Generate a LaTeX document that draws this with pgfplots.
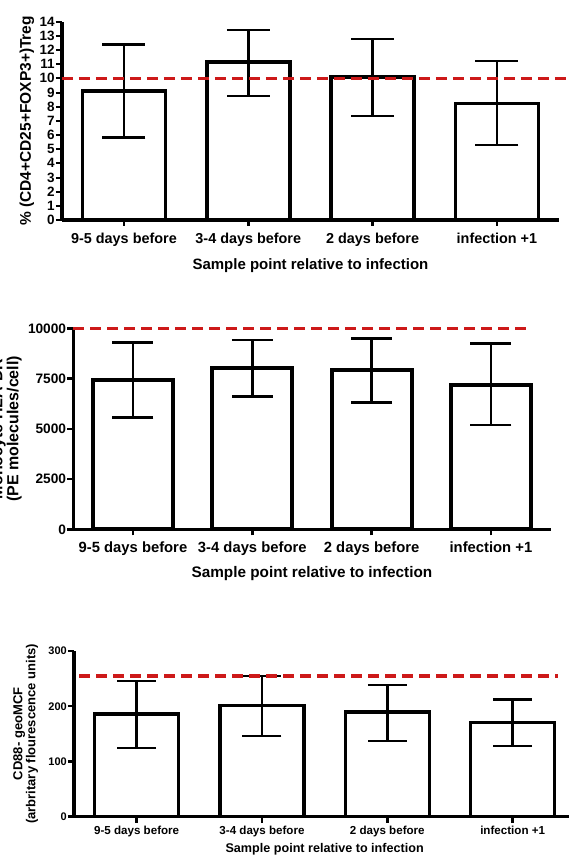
\documentclass[border=0pt]{standalone}
\usepackage{pgfplots}
\pgfplotsset{compat=1.18}
\usepackage{fontspec}
\setmainfont{Liberation Sans}
\definecolor{refred}{RGB}{205,25,25}
\newcommand{\fs}[1]{\bfseries\fontsize{#1}{#1}\selectfont}

\pgfplotstableread{
x y ep em
0 9.10 3.30 3.26
1 11.15 2.28 2.40
2 10.11 2.66 2.77
3 8.24 3.00 2.95
}\tregdata
\pgfplotstableread{
x y ep em
0 7428 1856 1876
1 8010 1408 1413
2 7925 1577 1607
3 7179 2075 1990
}\hladata
\pgfplotstableread{
x y ep em
0 186.0 59.7 61.6
1 201.0 53.7 54.9
2 189.6 48.8 52.6
3 170.2 42.3 42.2
}\cddata

\pgfplotsset{
  gp/.style={
    scale only axis, anchor=south west,
    axis lines*=left, axis line style={line width=3.5pt, -, black},
    xmin=-0.5, xmax=3.5, ymin=0, clip=false,
    xtick={0,1,2,3},
    xticklabels={9-5 days before, 3-4 days before, 2 days before, infection +1},
    tick align=outside, major tick length=6pt,
    tick style={line width=2.5pt, black},
    /pgf/number format/assume math mode=true,
    /pgf/number format/1000 sep={},
    scaled y ticks=false,
    xlabel={Sample point relative to infection},
    xlabel style={at={(axis description cs:0.5,0)}, anchor=center},
    ylabel style={anchor=center, align=center},
    yticklabel style={inner sep=1pt},
  },
}

\begin{document}
\begin{tikzpicture}
\path[use as bounding box] (0,0) rectangle (569pt,857pt);
\clip (0,0) rectangle (569pt,857pt);

% ---------- Panel 1 ----------
\begin{axis}[gp,
  at={(61.8pt,637pt)}, width=497.3pt, height=198.3pt,
  ymax=14, ytick={0,1,...,14}, y tick style={line width=2pt},
  yticklabel style={font=\fs{13.5}},
  xticklabel style={font=\fs{14.4}, yshift=-3.5pt},
  xlabel style={font=\fs{15}, yshift=-46pt},
  ylabel={\% (CD4+CD25+FOXP3+)Treg},
  ylabel style={font=\fs{15.5}, at={(axis description cs:-0.070,0.5)}},
]
\addplot[ybar, bar width=83pt, fill=white, draw=black, line width=3.5pt,
  error bars/.cd, y dir=both, y explicit,
  error bar style={line width=2.5pt, black},
  error mark options={line width=2.5pt, mark size=21.5pt, black, rotate=90}]
  table[x=x, y=y, y error plus=ep, y error minus=em] {\tregdata};
\addplot[refred, line width=3.5pt, dash pattern=on 11pt off 6pt] coordinates {(-0.5,10) (3.62,10)};
\end{axis}

% ---------- Panel 2 ----------
\begin{axis}[gp,
  at={(73.3pt,327.7pt)}, width=477.3pt, height=201pt,
  ymax=10000, ytick={0,2500,5000,7500,10000},
  yticklabel style={font=\fs{13.7}},
  xticklabel style={font=\fs{14.8}, yshift=-3pt},
  xlabel style={font=\fs{15.3}, yshift=-44.5pt},
  ylabel={Monocyte HLA-DR\\(PE molecules/cell)},
  ylabel style={font=\fs{16}, at={(axis description cs:-0.140,0.5)}},
]
\addplot[ybar, bar width=80pt, fill=white, draw=black, line width=3.8pt,
  error bars/.cd, y dir=both, y explicit,
  error bar style={line width=2.7pt, black},
  error mark options={line width=2.7pt, mark size=20.5pt, black, rotate=90}]
  table[x=x, y=y, y error plus=ep, y error minus=em] {\hladata};
\addplot[refred, line width=3.5pt, dash pattern=on 11pt off 6pt] coordinates {(-0.5,10000) (3.3,10000)};
\end{axis}

% ---------- Panel 3 ----------
\begin{axis}[gp,
  at={(74pt,40.3pt)}, width=501.3pt, height=165.7pt,
  ymax=300, ytick={0,100,200,300},
  yticklabel style={font=\fs{11}},
  xticklabel style={font=\fs{11.6}},
  xlabel style={font=\fs{12.6}, yshift=-32.3pt},
  ylabel={CD88- geoMCF\\(arbritary flourescence units)},
  ylabel style={font=\fs{13}, at={(axis description cs:-0.0963,0.5)}},
]
\addplot[ybar, bar width=84pt, fill=white, draw=black, line width=3.5pt,
  error bars/.cd, y dir=both, y explicit,
  error bar style={line width=2.5pt, black},
  error mark options={line width=2.5pt, mark size=19.5pt, black, rotate=90}]
  table[x=x, y=y, y error plus=ep, y error minus=em] {\cddata};
\addplot[refred, line width=3.5pt, dash pattern=on 11pt off 6pt] coordinates {(-0.46,255) (3.36,255)};
\end{axis}
\end{tikzpicture}
\end{document}
